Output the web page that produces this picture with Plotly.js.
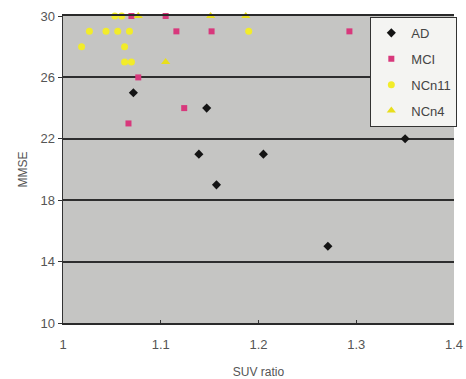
<!DOCTYPE html>
<html>
<head>
<meta charset="utf-8">
<script src="https://cdn.plot.ly/plotly-3.0.1.min.js"></script>
<style>html,body{margin:0;padding:0;background:#fff;}#chart{width:466px;height:379px;}</style>
</head>
<body>
<div id="chart"></div>
<script>
// Data
const adX = [1.072, 1.147, 1.139, 1.205, 1.157, 1.271, 1.350];
const adY = [25, 24, 21, 21, 19, 15, 22];
const mciX = [1.070, 1.105, 1.116, 1.152, 1.293, 1.077, 1.124, 1.067];
const mciY = [30, 30, 29, 29, 29, 26, 24, 23];
const nc11X = [1.053, 1.027, 1.044, 1.056, 1.068, 1.019, 1.063, 1.063, 1.070, 1.190, 1.060];
const nc11Y = [30, 29, 29, 29, 29, 28, 28, 27, 27, 29, 30];
const nc4X = [1.077, 1.151, 1.187, 1.105];
const nc4Y = [30, 30, 30, 27];
const xTicks = [1, 1.1, 1.2, 1.3, 1.4];
const yTicks = [10, 14, 18, 22, 26, 30];

const fontFam = 'Liberation Sans, Arial, sans-serif';
const traces = [
  {x: adX, y: adY, name: 'AD', legendgroup: 'a', type: 'scatter', mode: 'markers', cliponaxis: false,
   marker: {symbol: 'diamond', size: 7, color: '#141414'}},
  {x: mciX, y: mciY, name: 'MCI', legendgroup: 'b', type: 'scatter', mode: 'markers', cliponaxis: false,
   marker: {symbol: 'square', size: 6, color: '#d8387c'}},
  {x: nc11X, y: nc11Y, name: 'NCn11', legendgroup: 'c', type: 'scatter', mode: 'markers', cliponaxis: false,
   marker: {symbol: 'circle', size: 7, color: '#f2ec2a'}},
  {x: nc4X, y: nc4Y, name: 'NCn4', legendgroup: 'd', type: 'scatter', mode: 'markers', cliponaxis: false,
   marker: {symbol: 'triangle-up', size: 8, color: '#e8de1c'}}
];

const layout = {
  width: 466, height: 379,
  margin: {l: 63, r: 9, t: 16, b: 56},
  paper_bgcolor: '#ffffff',
  plot_bgcolor: '#c5c5c3',
  showlegend: true,
  font: {family: fontFam, size: 13, color: '#555'},
  xaxis: {
    range: [1, 1.4], tickvals: xTicks, ticktext: xTicks.map(String),
    showgrid: false, zeroline: false,
    showline: true, linecolor: '#2a2a2a', linewidth: 2, mirror: true,
    ticks: 'inside', ticklen: 3, tickcolor: '#333',
    ticklabelstandoff: 8,
    tickfont: {size: 13, color: '#555'},
    title: {text: 'SUV ratio', font: {size: 12, color: '#555'}, standoff: 17}
  },
  yaxis: {
    range: [10, 30], tickvals: yTicks,
    showgrid: true, gridcolor: '#2e2e2e', gridwidth: 2,
    zeroline: false, showline: true, linecolor: '#333', linewidth: 1.5,
    ticks: 'outside', ticklen: 4, tickcolor: '#333',
    tickfont: {size: 13, color: '#555'},
    title: {text: 'MMSE', font: {size: 12, color: '#555'}, standoff: 10}
  },
  legend: {
    x: 0.786, y: 0.997, xanchor: 'left', yanchor: 'top',
    bgcolor: '#f4f4f2', bordercolor: '#333', borderwidth: 1,
    tracegroupgap: 6, itemwidth: 30,
    font: {size: 13, color: '#444'}
  }
};

Plotly.newPlot('chart', traces, layout, {staticPlot: true, displayModeBar: false});
</script>
</body>
</html>
